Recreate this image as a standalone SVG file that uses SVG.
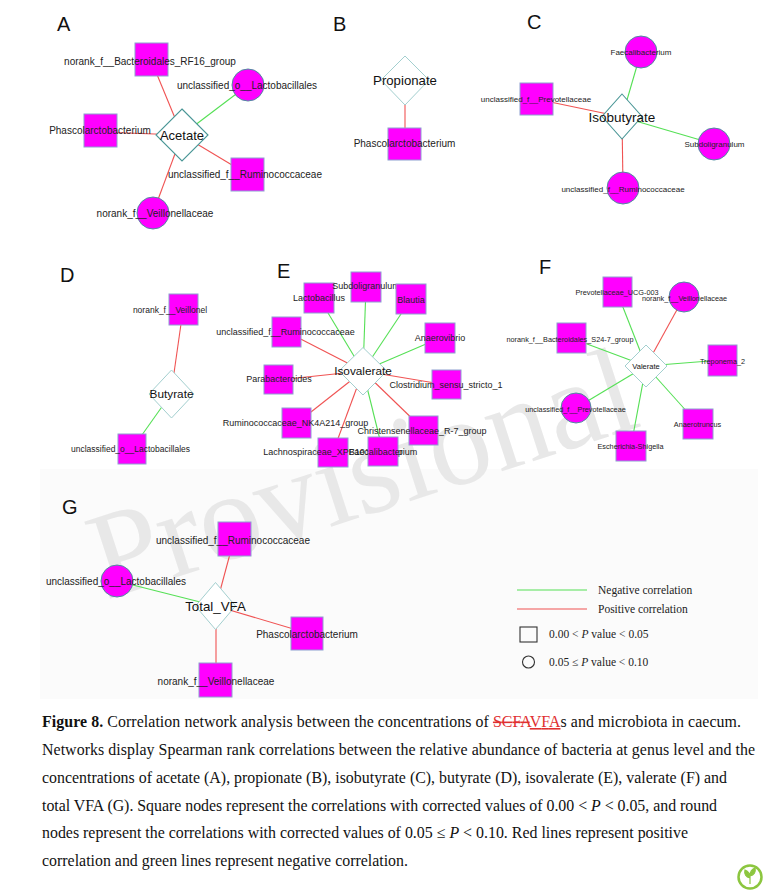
<svg xmlns="http://www.w3.org/2000/svg" width="777" height="896" viewBox="0 0 777 896">
<style>
.lbl{font-family:"Liberation Sans",Arial,sans-serif;fill:#222;text-anchor:middle}
.l10{font-size:10px}.l9{font-size:9px}.l8{font-size:8px}.l85{font-size:8.5px}.l7{font-size:7.3px}
.hub{font-family:"Liberation Sans",Arial,sans-serif;fill:#111;text-anchor:middle}
.pl{font-family:"Liberation Sans",Arial,sans-serif;font-size:20px;fill:#111}
.sq{fill:#ff00ff;stroke:#8e9fd0;stroke-width:1}
.ci{fill:#ff00ff;stroke:#4d8fa0;stroke-width:1}
.dk{fill:#fff;stroke:#4a9696;stroke-width:1.1}
.lt{fill:#fff;stroke:#a3cfcf;stroke-width:1}
.pos{stroke:#f05353;stroke-width:1.1}
.neg{stroke:#55e055;stroke-width:1.1}
.cap{font-family:"Liberation Serif","Times New Roman",serif;font-size:15.9px;fill:#111}
.leg{font-family:"Liberation Serif","Times New Roman",serif;font-size:11.5px;fill:#222}
</style>
<rect width="777" height="896" fill="#fff"/>
<rect x="40" y="469" width="718" height="230" fill="#fbfbfb"/>
<text x="106" y="600" transform="rotate(-18 106 600)" font-family="Liberation Serif,serif" font-size="124" fill="#e8e8e8">Provisional</text>

<g id="panel-labels">
<text class="pl" x="57" y="31">A</text>
<text class="pl" x="333" y="31">B</text>
<text class="pl" x="527" y="29">C</text>
<text class="pl" x="60" y="282">D</text>
<text class="pl" x="277" y="278">E</text>
<text class="pl" x="539" y="274">F</text>
<text class="pl" x="62" y="514">G</text>
</g>

<g id="connectors">
<!-- A -->
<line class="pos" x1="151" y1="60" x2="182" y2="135"/>
<line class="neg" x1="248" y1="85" x2="182" y2="135"/>
<line class="pos" x1="100" y1="132" x2="182" y2="135"/>
<line class="pos" x1="247" y1="174" x2="182" y2="135"/>
<line class="pos" x1="153" y1="213" x2="182" y2="135"/>
<!-- B -->
<line class="pos" x1="405" y1="80" x2="405" y2="143"/>
<!-- C -->
<line class="neg" x1="641" y1="52" x2="622" y2="117"/>
<line class="pos" x1="536" y1="99" x2="622" y2="117"/>
<line class="neg" x1="714" y1="144" x2="622" y2="117"/>
<line class="pos" x1="623" y1="188" x2="622" y2="117"/>
<!-- D -->
<line class="pos" x1="183" y1="310" x2="171" y2="394"/>
<line class="neg" x1="132" y1="449" x2="171" y2="394"/>
<!-- E -->
<line class="neg" x1="319" y1="298" x2="363" y2="371"/>
<line class="neg" x1="366" y1="287" x2="363" y2="371"/>
<line class="neg" x1="411" y1="299" x2="363" y2="371"/>
<line class="neg" x1="440" y1="338" x2="363" y2="371"/>
<line class="pos" x1="287" y1="332" x2="363" y2="371"/>
<line class="pos" x1="278" y1="380" x2="363" y2="371"/>
<line class="pos" x1="447" y1="385" x2="363" y2="371"/>
<line class="pos" x1="297" y1="423" x2="363" y2="371"/>
<line class="pos" x1="424" y1="430" x2="363" y2="371"/>
<line class="pos" x1="333" y1="452" x2="363" y2="371"/>
<line class="neg" x1="383" y1="452" x2="363" y2="371"/>
<!-- F -->
<line class="neg" x1="617" y1="292" x2="646" y2="366"/>
<line class="pos" x1="684" y1="297" x2="646" y2="366"/>
<line class="neg" x1="571" y1="338" x2="646" y2="366"/>
<line class="neg" x1="722" y1="360" x2="646" y2="366"/>
<line class="neg" x1="576" y1="408" x2="646" y2="366"/>
<line class="neg" x1="698" y1="424" x2="646" y2="366"/>
<line class="neg" x1="631" y1="446" x2="646" y2="366"/>
<!-- G -->
<line class="pos" x1="234" y1="539" x2="216" y2="606"/>
<line class="neg" x1="117" y1="581" x2="216" y2="606"/>
<line class="pos" x1="307" y1="633" x2="216" y2="606"/>
<line class="pos" x1="216" y1="680" x2="216" y2="606"/>
</g>

<!-- Panel A -->
<g id="A-acetate"><polygon class="dk" points="182,109 208,135 182,161 156,135"/><text class="hub" x="182" y="140" font-size="13">Acetate</text></g>
<g id="A-rf16"><rect class="sq" x="135" y="43" width="33" height="33"/><text class="lbl l10" x="150" y="64.5">norank_f__Bacteroidales_RF16_group</text></g>
<g id="A-lacto"><circle class="ci" cx="248" cy="85" r="16"/><text class="lbl l10" x="247" y="88.5">unclassified_o__Lactobacillales</text></g>
<g id="A-phasco"><rect class="sq" x="84" y="114" width="33" height="33"/><text class="lbl l10" x="100" y="133.5">Phascolarctobacterium</text></g>
<g id="A-rumino"><rect class="sq" x="231" y="158" width="33" height="33"/><text class="lbl l10" x="245" y="177.5">unclassified_f__Ruminococcaceae</text></g>
<g id="A-veillon"><circle class="ci" cx="153" cy="213" r="16"/><text class="lbl l10" x="155" y="216.5">norank_f__Veillonellaceae</text></g>

<!-- Panel B -->
<g id="B-propionate"><polygon class="lt" points="405,56 429,80 405,105 381,80"/><text class="hub" x="405" y="85" font-size="13.2">Propionate</text></g>
<g id="B-phasco"><rect class="sq" x="388" y="128" width="33" height="32"/><text class="lbl l10" x="404.5" y="146.5">Phascolarctobacterium</text></g>

<!-- Panel C -->
<g id="C-isobutyrate"><polygon class="dk" points="622,94 642,116.5 622,139 602,116.5"/><text class="hub" x="622" y="121.5" font-size="13.5">Isobutyrate</text></g>
<g id="C-faecali"><circle class="ci" cx="641" cy="52" r="16"/><text class="lbl l8" x="641" y="54.8">Faecalibacterium</text></g>
<g id="C-prevot"><rect class="sq" x="520" y="83" width="33" height="32"/><text class="lbl l8" x="536" y="101.8">unclassified_f__Prevotellaceae</text></g>
<g id="C-subdoli"><circle class="ci" cx="714" cy="144" r="16"/><text class="lbl l8" x="714.5" y="146.8">Subdoligranulum</text></g>
<g id="C-rumino"><circle class="ci" cx="623" cy="188" r="16"/><text class="lbl l8" x="623" y="191.8">unclassified_f__Ruminococcaceae</text></g>

<!-- Panel D -->
<g id="D-butyrate"><polygon class="lt" points="171.5,370 194,394 171.5,418 149,394"/><text class="hub" x="171.5" y="398.2" font-size="11.8">Butyrate</text></g>
<g id="D-veillonel"><rect class="sq" x="169" y="294" width="29" height="31"/><text class="lbl l85" x="170" y="313">norank_f__Veillonel</text></g>
<g id="D-lacto"><rect class="sq" x="118" y="434" width="28" height="30"/><text class="lbl l85" x="130.5" y="452">unclassified_o__Lactobacillales</text></g>

<!-- Panel E -->
<g id="E-isovalerate"><polygon class="lt" points="363,347.5 387,371 363,395 339,371"/><text class="hub" x="363" y="375.3" font-size="11.8">Isovalerate</text></g>
<g id="E-lactobacillus"><rect class="sq" x="304" y="283" width="30" height="30"/><text class="lbl l9" x="319" y="301">Lactobacillus</text></g>
<g id="E-subdoli"><rect class="sq" x="351" y="272" width="30" height="30"/><text class="lbl l9" x="366" y="289">Subdoligranulum</text></g>
<g id="E-blautia"><rect class="sq" x="396" y="284" width="30" height="30"/><text class="lbl l9" x="411" y="303">Blautia</text></g>
<g id="E-anaerovibrio"><rect class="sq" x="425" y="323" width="30" height="30"/><text class="lbl l9" x="440" y="341">Anaerovibrio</text></g>
<g id="E-rumino"><rect class="sq" x="272" y="317" width="29" height="30"/><text class="lbl l9" x="285.5" y="335">unclassified_f__Ruminococcaceae</text></g>
<g id="E-parabact"><rect class="sq" x="264" y="365" width="29" height="29"/><text class="lbl l9" x="279" y="382">Parabacteroides</text></g>
<g id="E-clostridium"><rect class="sq" x="432" y="370" width="29" height="29"/><text class="lbl l9" x="446" y="388">Clostridium_sensu_stricto_1</text></g>
<g id="E-nk4a214"><rect class="sq" x="282" y="408" width="29" height="30"/><text class="lbl l9" x="295.5" y="426">Ruminococcaceae_NK4A214_group</text></g>
<g id="E-christensen"><rect class="sq" x="409" y="416" width="29" height="29"/><text class="lbl l9" x="422" y="434">Christensenellaceae_R-7_group</text></g>
<g id="E-lachno"><rect class="sq" x="318" y="438" width="30" height="29"/><text class="lbl l9" x="333" y="455">Lachnospiraceae_XPB1014_group</text></g>
<g id="E-faecali"><rect class="sq" x="368" y="437" width="30" height="29"/><text class="lbl l9" x="383" y="455">Faecalibacterium</text></g>

<!-- Panel F -->
<g id="F-valerate"><polygon class="lt" points="646,345 667,366 646,387 625,366"/><text class="hub" x="646" y="368.6" font-size="7.5">Valerate</text></g>
<g id="F-prevUCG"><rect class="sq" x="603" y="277" width="29" height="30"/><text class="lbl l7" x="617" y="294.5">Prevotellaceae_UCG-003</text></g>
<g id="F-veillon"><circle class="ci" cx="684" cy="297" r="15"/><text class="lbl l7" x="684.5" y="300.5">norank_f__Veillonellaceae</text></g>
<g id="F-s24"><rect class="sq" x="557" y="323" width="29" height="30"/><text class="lbl l7" x="570" y="341.5">norank_f__Bacteroidales_S24-7_group</text></g>
<g id="F-treponema"><rect class="sq" x="708" y="345" width="29" height="31"/><text class="lbl l7" x="722.5" y="363.5">Treponema_2</text></g>
<g id="F-prevot"><circle class="ci" cx="576" cy="408" r="15"/><text class="lbl l7" x="575.5" y="411.5">unclassified_f__Prevotellaceae</text></g>
<g id="F-anaerotruncus"><rect class="sq" x="683" y="409" width="30" height="30"/><text class="lbl l7" x="697.5" y="426.5">Anaerotruncus</text></g>
<g id="F-escherichia"><rect class="sq" x="616" y="431" width="30" height="30"/><text class="lbl l7" x="630.5" y="448.5">Escherichia-Shigella</text></g>

<!-- Panel G -->
<g id="G-totalvfa"><polygon class="lt" points="215.5,582.5 235.5,606 215.5,629.5 195.5,606"/><text class="hub" x="215.5" y="611" font-size="13.3">Total_VFA</text></g>
<g id="G-rumino"><rect class="sq" x="218" y="522" width="33" height="34"/><text class="lbl l10" x="233" y="543.5">unclassified_f__Ruminococcaceae</text></g>
<g id="G-lacto"><circle class="ci" cx="117" cy="581" r="16"/><text class="lbl l10" x="116" y="584.5">unclassified_o__Lactobacillales</text></g>
<g id="G-phasco"><rect class="sq" x="291" y="617" width="32" height="33"/><text class="lbl l10" x="307" y="637.5">Phascolarctobacterium</text></g>
<g id="G-veillon"><rect class="sq" x="199" y="663" width="33" height="34"/><text class="lbl l10" x="216" y="684.5">norank_f__Veillonellaceae</text></g>

<!-- Legend -->
<g id="legend">
<line x1="517" y1="590" x2="587" y2="590" stroke="#55e055" stroke-width="1.1"/>
<text class="leg" x="598" y="593.5">Negative correlation</text>
<line x1="517" y1="609" x2="587" y2="609" stroke="#f05353" stroke-width="1.1"/>
<text class="leg" x="598" y="612.5">Positive correlation</text>
<rect x="520" y="627" width="17" height="15" fill="none" stroke="#333" stroke-width="1.1"/>
<text class="leg" x="549" y="638">0.00 &lt; <tspan font-style="italic">P</tspan> value &lt; 0.05</text>
<circle cx="528.5" cy="662" r="6" fill="none" stroke="#333" stroke-width="1.1"/>
<text class="leg" x="549" y="666">0.05 ≤ <tspan font-style="italic">P</tspan> value &lt; 0.10</text>
</g>

<!-- Caption -->
<g id="caption">
<text class="cap" x="42" y="727" textLength="699"><tspan font-weight="bold">Figure 8.</tspan> Correlation network analysis between the concentrations of <tspan fill="#e03030" text-decoration="line-through">SCFA</tspan><tspan fill="#e03030" text-decoration="underline">VFA</tspan>s and microbiota in caecum.</text>
<text class="cap" x="42" y="755" textLength="713">Networks display Spearman rank correlations between the relative abundance of bacteria at genus level and the</text>
<text class="cap" x="42" y="783" textLength="685">concentrations of acetate (A), propionate (B), isobutyrate (C), butyrate (D), isovalerate (E), valerate (F) and</text>
<text class="cap" x="42" y="811" textLength="675">total VFA (G). Square nodes represent the correlations with corrected values of 0.00 &lt; <tspan font-style="italic">P</tspan> &lt; 0.05, and round</text>
<text class="cap" x="42" y="838" textLength="646">nodes represent the correlations with corrected values of 0.05 ≤ <tspan font-style="italic">P</tspan> &lt; 0.10. Red lines represent positive</text>
<text class="cap" x="42" y="866" textLength="366">correlation and green lines represent negative correlation.</text>
</g>

<g id="logo">
<circle cx="750" cy="877" r="11.5" fill="#fff" stroke="#8cc63f" stroke-width="2.5"/>
<path d="M750,884 L750,874 M750,878 C746,877 744,874 745,870 C748,871 750,874 750,878 M750,876 C754,875 756,872 755,868 C752,869 750,872 750,876" fill="#8cc63f" stroke="#8cc63f" stroke-width="1.2"/>
</g>
</svg>
